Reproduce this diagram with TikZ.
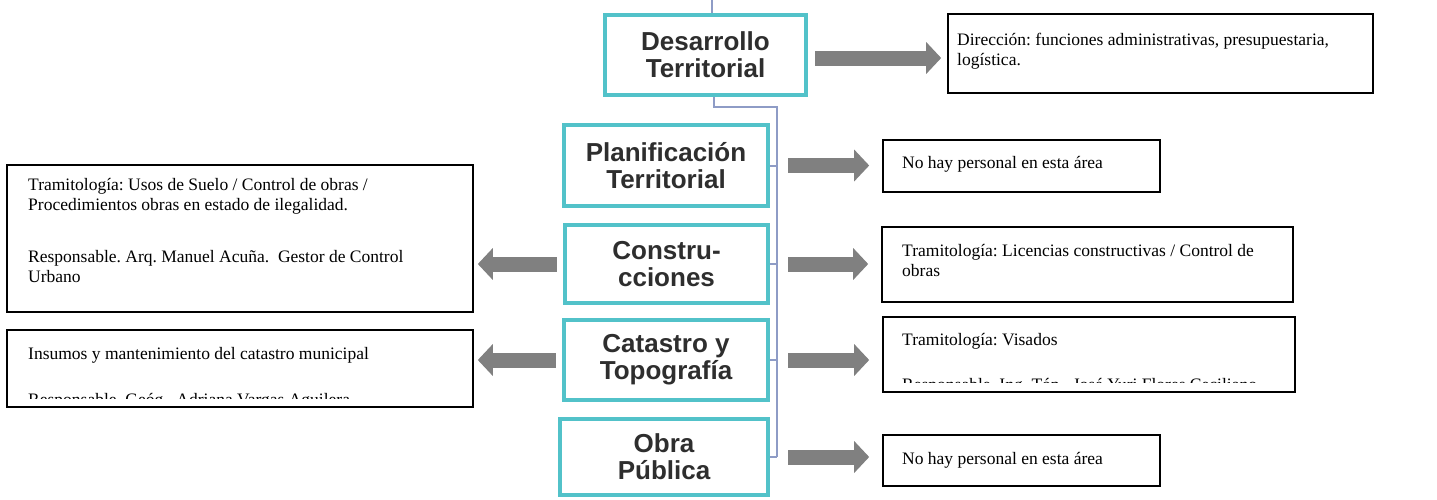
\documentclass[tikz,border=0pt]{standalone}
\usepackage{fontspec}
\setmainfont{Liberation Serif}
\newfontfamily\orgfont{Liberation Sans}
\usetikzlibrary{arrows.meta,positioning}
\definecolor{orgteal}{HTML}{52C2C9}
\definecolor{orgline}{HTML}{8E9CC6}
\definecolor{arrowgray}{HTML}{808080}
\definecolor{orgtext}{HTML}{2E2E2E}
\frenchspacing

\begin{document}
\begin{tikzpicture}[x=1pt,y=-1pt,
 unit/.style={draw=orgteal,line width=4.5pt,fill=white,rectangle,align=center,inner sep=0pt,text=orgtext,font=\orgfont\fontsize{26}{27}\selectfont\bfseries},
 desc/.style={draw=black,line width=1.6pt,rectangle,inner sep=0pt},
 desctext/.style={anchor=base west,align=left,inner sep=0pt,font=\fontsize{17.5}{20}\selectfont},
 link/.style={draw=orgline,line width=2pt},
 blk/.style={draw=arrowgray,line width=15pt,-{Triangle[length=15pt,width=31pt]}}]
\useasboundingbox (0,0) rectangle (1437,499);
% units of the department
\node[unit,minimum width=201pt,minimum height=80pt] (des) at (705.5,55) {Desarrollo\\Territorial};
\node[unit,minimum width=204pt,minimum height=81pt] (plan) at (666,165.5) {Planificación\\Territorial};
\node[unit,minimum width=203pt,minimum height=78pt] (cons) at (666.5,264) {Constru-\\cciones};
\node[unit,minimum width=204pt,minimum height=80pt] (cat) at (666,360) {Catastro y\\Topografía};
\node[unit,minimum width=208pt,minimum height=76pt] (obra) at (664,457) {Obra\\Pública};
% description boxes
\node[desc,minimum width=425pt,minimum height=79pt] (dirB) at (1160.5,53.5) {};
\node[desc,minimum width=277pt,minimum height=52pt] (planD) at (1021.5,166) {};
\node[desc,minimum width=411pt,minimum height=75pt] (consD) at (1087.5,264.5) {};
\node[desc,minimum width=412pt,minimum height=75pt] (catD) at (1089,354.5) {};
\node[desc,minimum width=277pt,minimum height=51pt] (obraD) at (1021.5,460.5) {};
\node[desc,minimum width=466pt,minimum height=147pt] (consL) at (240,238.5) {};
\node[desc,minimum width=466pt,minimum height=77pt] (catL) at (240,368.5) {};
% texts (placed at the baseline of their last line)
\node[desctext] (dirT) at (957,65) {Dirección: funciones administrativas, presupuestaria,\\logística.};
\node[desctext] (planDT) at (902,168) {No hay personal en esta área};
\node[desctext] (consDT) at (902,276) {Tramitología: Licencias constructivas / Control de\\obras};
\node[desctext] (obraDT) at (902,464) {No hay personal en esta área};
\node[desctext] (consLT) at (28,282) {Tramitología: Usos de Suelo / Control de obras /\\Procedimientos obras en estado de ilegalidad.\\[32pt]Responsable. Arq. Manuel Acuña.\ \ Gestor de Control\\Urbano};
\coordinate (catcut) at (1295,382);
\coordinate (inscut) at (473,398);
\begin{scope}
\clip (catD.north west) rectangle (catcut);
\node[desctext] (catDT) at (902,390) {Tramitología: Visados\\[25pt]Responsable. Ing. Tóp.\ \ José Yuri Flores Ceciliano};
\end{scope}
\begin{scope}
\clip (catL.north west) rectangle (inscut);
\node[desctext] (catLT) at (28,405) {Insumos y mantenimiento del catastro municipal\\[26pt]Responsable. Geóg.\ \ Adriana Vargas Aguilera};
\end{scope}
% org lines
\coordinate (spine) at (777,107);
\coordinate (stub) at (712,0);
\draw[link] ([xshift=8pt]des.south) |- (spine) -- (spine |- obra.east);
\foreach \u in {plan,cons,cat,obra} \draw[link] (\u.east) -- (\u.east -| spine);
\draw[link,line width=1.5pt] (stub) -- (stub |- des.north);
% block arrows
\draw[blk,shorten >=6pt] ([xshift=7pt,yshift=-3pt]des.east) -- ([yshift=-3pt]des.east -| dirB.west);
\foreach \u/\d in {plan/planD,cons/consD,cat/catD,obra/obraD}
 \draw[blk,shorten >=13pt] ([xshift=18pt]\u.east) -- (\u.east -| \d.west);
\foreach \u/\d in {cons/consL,cat/catL}
 \draw[blk,shorten >=4pt] ([xshift=-6pt]\u.west) -- (\u.west -| \d.east);
\end{tikzpicture}
\end{document}
